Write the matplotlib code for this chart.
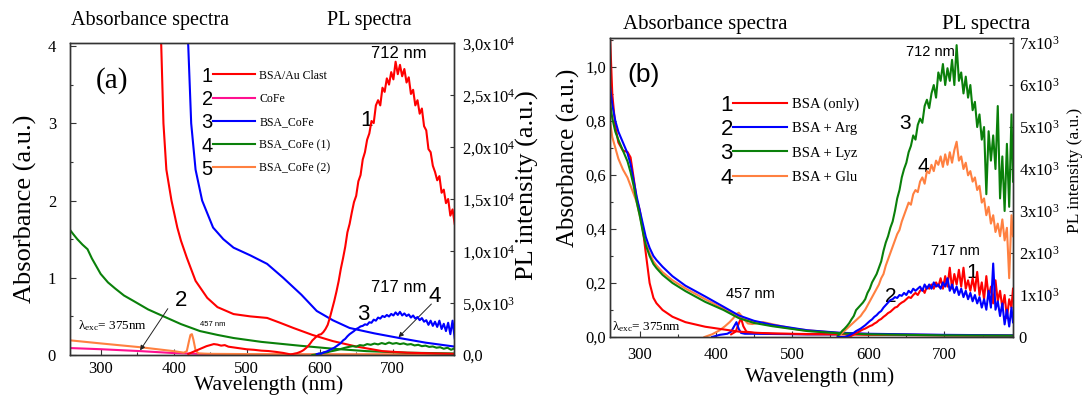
import matplotlib
matplotlib.use('Agg')
import matplotlib.pyplot as plt
from matplotlib.lines import Line2D
from matplotlib.ticker import FixedLocator, FixedFormatter, MultipleLocator

SERIF = 'Liberation Serif'
SANS = 'Liberation Sans'
plt.rcParams['font.family'] = [SERIF, 'DejaVu Serif']
plt.rcParams['mathtext.fontset'] = 'custom'
plt.rcParams['mathtext.rm'] = SERIF
plt.rcParams['mathtext.it'] = SERIF + ':italic'
plt.rcParams['mathtext.bf'] = SERIF + ':bold'
plt.rcParams['mathtext.default'] = 'rm'

RED = '#ff0000'
BLUE = '#0000ff'
GREEN = '#0a800a'
ORANGE = '#ff8040'
PINK = '#ff1090'

# ---------------- panel (a) data ----------------
wl_a_red_abs = [380, 383, 386, 390, 397, 405, 410, 418, 430, 446, 460, 482, 505, 528, 545, 564, 590, 618, 650, 686, 720, 760, 784]
abs_a_red = [4.6, 4.0, 3.0, 2.4, 2.0, 1.65, 1.48, 1.26, 0.96, 0.74, 0.62, 0.53, 0.50, 0.48, 0.42, 0.35, 0.26, 0.18, 0.11, 0.05, 0.03, 0.02, 0.015]

wl_a_blue_abs = [417, 420, 424, 430, 439, 454, 468, 482, 505, 528, 550, 575, 596, 618, 641, 675, 709, 745, 784]
abs_a_blue = [4.4, 4.0, 3.0, 2.4, 2.0, 1.65, 1.5, 1.39, 1.29, 1.18, 1.0, 0.78, 0.57, 0.45, 0.35, 0.28, 0.22, 0.16, 0.11]

wl_a_green_abs = [258, 262, 268, 275, 282, 288, 300, 310, 320, 332, 345, 365, 391, 410, 436, 460, 482, 520, 573, 620, 664, 720, 784]
abs_a_green = [1.62, 1.57, 1.50, 1.43, 1.37, 1.25, 1.05, 0.94, 0.86, 0.77, 0.70, 0.59, 0.48, 0.40, 0.31, 0.26, 0.22, 0.17, 0.12, 0.08, 0.05, 0.03, 0.02]

wl_a_orange_abs = [258, 300, 355, 400, 414, 418, 421, 423, 425, 427, 430, 434, 450, 500, 600, 700, 784]
abs_a_orange = [0.19, 0.15, 0.10, 0.05, 0.03, 0.05, 0.18, 0.26, 0.27, 0.20, 0.06, 0.02, 0.015, 0.012, 0.01, 0.01, 0.01]

wl_a_pink_abs = [258, 300, 355, 400, 450, 500, 784]
abs_a_pink = [0.09, 0.075, 0.05, 0.025, 0.01, 0.004, 0.002]

wl_a_red_pl = [420, 425, 430, 435, 440, 445, 450, 455, 460, 465, 470, 475, 480, 490, 500, 510, 520, 530, 540, 550,
               560, 563, 566, 569, 572, 575, 578, 581, 584, 587, 590, 593, 596, 599, 602, 605, 608, 611, 614, 617,
               620, 623, 626, 629, 632, 635, 638, 641, 644, 647, 650, 653, 656, 659, 662, 665, 668, 671, 674, 677,
               680, 683, 686, 689, 692, 695, 698, 701, 704, 707, 710, 713, 716, 719, 722, 725, 728, 731, 734, 737,
               740, 743, 746, 749, 752, 755, 758, 761, 764, 767, 770, 773, 776, 779, 782, 785]
pl_a_red = [100, 250, 400, 550, 700, 850, 950, 1050, 1000, 900, 950, 800, 750, 650, 550, 500, 420, 380, 300, 200,
            60, 90, 140, 180, 260, 350, 480, 650, 850, 1100, 1400, 1600, 1800, 1950, 2000, 2200, 2500, 2900, 3600, 4400,
            5200, 6100, 7100, 8300, 9300, 10400, 11800, 12600, 13700, 14700, 15300, 16700, 17300, 18800, 19500, 20700, 21300, 22500, 22300, 24000,
            24500, 24000, 25700, 25300, 26600, 26000, 27200, 26500, 28200, 27000, 27900, 26800, 27500, 26200, 26700, 25100, 25500, 24000, 24500, 23200,
            23700, 22000, 21600, 19800, 19500, 18200, 17600, 16800, 17200, 15600, 15900, 14600, 15000, 13400, 14000, 12600]

wl_a_blue_pl = [596, 599, 602, 605, 608, 611, 614, 617, 620, 623, 626, 629, 632, 635, 638, 641, 644, 647, 650, 653,
                656, 659, 662, 665, 668, 671, 674, 677, 680, 683, 686, 689, 692, 695, 698, 701, 704, 707, 710, 713,
                716, 719, 722, 725, 728, 731, 734, 737, 740, 743, 746, 749, 752, 755, 758, 761, 764, 767, 770, 773,
                776, 779, 782, 785]
pl_a_blue = [80, 150, 120, 250, 300, 380, 500, 600, 700, 850, 1000, 1150, 1400, 1550, 1800, 2000, 2150, 2300, 2500, 2600,
             2750, 2800, 2950, 2900, 3150, 3100, 3400, 3300, 3600, 3500, 3750, 3650, 3850, 3700, 3950, 3800, 4100, 3850, 4150, 3800,
             4000, 3750, 3900, 3600, 3800, 3500, 3650, 3350, 3550, 3200, 3350, 2900, 3300, 2800, 3200, 2700, 3300, 2500, 3000, 2300,
             3100, 2000, 3300, 1600]

wl_a_green_pl = [590, 595, 600, 605, 610, 615, 620, 625, 630, 635, 640, 645, 650, 655, 660, 665, 670, 675, 680, 685,
                 690, 695, 700, 705, 710, 715, 720, 725, 730, 735, 740, 745, 750, 755, 760, 765, 770, 775, 780, 785]
pl_a_green = [0, 50, 120, 200, 250, 350, 420, 500, 600, 700, 780, 850, 800, 950, 900, 1050, 980, 1100, 1020, 1150,
              1050, 1200, 1080, 1150, 1050, 1120, 1000, 1050, 920, 980, 850, 900, 780, 820, 700, 750, 600, 700, 500, 650]

legend_a_nums = ['1', '2', '3', '4', '5']
legend_a_labels = ['BSA/Au Clast', 'CoFe', 'BSA_CoFe', 'BSA_CoFe (1)', 'BSA_CoFe (2)']
legend_a_colors = [RED, PINK, BLUE, GREEN, ORANGE]

yticks_a = [0, 1, 2, 3, 4]
yticklabels_a = ['0', '1', '2', '3', '4']
pl_ticks_a = [0, 5000, 10000, 15000, 20000, 25000, 30000]
pl_ticklabels_a = ['0,0', '5,0x10$^3$', '1,0x10$^4$', '1,5x10$^4$', '2,0x10$^4$', '2,5x10$^4$', '3,0x10$^4$']
xticks = [300, 400, 500, 600, 700]
xticklabels = ['300', '400', '500', '600', '700']

# ---------------- panel (b) data ----------------
wl_b_abs = [261, 264, 268, 272, 278, 284, 288, 292, 296, 300, 304, 308, 313, 318, 322, 330, 343, 360, 386, 410,
            430, 450, 474, 520, 561, 600, 700, 790]
abs_b_red = [1.12, 0.90, 0.78, 0.72, 0.69, 0.685, 0.665, 0.59, 0.51, 0.47, 0.40, 0.31, 0.20, 0.145, 0.125, 0.10, 0.075, 0.055, 0.038, 0.028,
             0.02, 0.016, 0.013, 0.011, 0.01, 0.008, 0.006, 0.005]
abs_b_blue = [0.93, 0.86, 0.80, 0.76, 0.72, 0.68, 0.64, 0.58, 0.52, 0.47, 0.42, 0.37, 0.33, 0.30, 0.285, 0.26, 0.225, 0.19, 0.15, 0.112,
              0.08, 0.06, 0.045, 0.025, 0.016, 0.012, 0.008, 0.006]
abs_b_green = [0.87, 0.81, 0.76, 0.73, 0.69, 0.65, 0.61, 0.56, 0.50, 0.45, 0.39, 0.34, 0.30, 0.27, 0.255, 0.23, 0.20, 0.17, 0.13, 0.10,
               0.07, 0.052, 0.04, 0.022, 0.014, 0.01, 0.006, 0.005]
abs_b_orange = [0.80, 0.74, 0.70, 0.66, 0.62, 0.59, 0.56, 0.53, 0.50, 0.45, 0.40, 0.35, 0.31, 0.28, 0.265, 0.24, 0.21, 0.18, 0.14, 0.105,
                0.075, 0.056, 0.042, 0.023, 0.015, 0.011, 0.007, 0.005]

wl_b_orange_short = [385, 395, 405, 412, 418, 423, 427, 430, 433, 437, 442, 448, 455, 462, 470, 478, 486, 495, 505, 520, 540, 560]
val_b_orange_short = [0.0, 0.01, 0.025, 0.04, 0.055, 0.07, 0.085, 0.09, 0.08, 0.065, 0.05, 0.048, 0.052, 0.055, 0.05, 0.045, 0.04, 0.035, 0.03, 0.025, 0.02, 0.015]
wl_b_blue_short = [395, 405, 415, 420, 424, 427, 430, 433, 438, 450, 480, 520, 560]
val_b_blue_short = [0.0, 0.008, 0.012, 0.02, 0.04, 0.055, 0.03, 0.015, 0.012, 0.012, 0.011, 0.01, 0.01]
wl_b_red_short = [420, 426, 430, 433, 436, 440, 450, 480, 520, 560]
val_b_red_short = [0.01, 0.02, 0.05, 0.07, 0.04, 0.02, 0.015, 0.012, 0.01, 0.01]

wl_b_pl = [560, 563, 566, 569, 572, 575, 578, 581, 584, 587, 590, 593, 596, 599, 602, 605, 608, 611, 614, 617,
           620, 623, 626, 629, 632, 635, 638, 641, 644, 647, 650, 653, 656, 659, 662, 665, 668, 671, 674, 677,
           680, 683, 686, 689, 692, 695, 698, 701, 704, 707, 710, 713, 716, 719, 722, 725, 728, 731, 734, 737,
           740, 743, 746, 749, 752, 755, 758, 761, 764, 767, 770, 773, 776, 779, 782, 785, 788, 790]
pl_b_green = [30, 80, 150, 200, 260, 330, 420, 500, 640, 700, 760, 820, 900, 1050, 1150, 1300, 1400, 1500, 1650, 1800,
              2050, 2250, 2400, 2600, 2750, 3000, 3300, 3500, 3800, 4000, 4150, 4400, 4550, 4800, 4700, 5050, 5200, 5100, 5500, 5650,
              5450, 5800, 6000, 5700, 6300, 6100, 6500, 6000, 6400, 6100, 6600, 6000, 6950, 6100, 6300, 5800, 6200, 5700, 6000, 5400,
              5600, 5000, 5300, 4700, 5000, 3400, 4900, 4200, 4800, 4000, 5500, 3300, 4300, 3000, 4600, 3100, 5300, 3700]
pl_b_orange = [20, 50, 100, 150, 200, 250, 300, 350, 400, 450, 500, 580, 650, 750, 850, 950, 1050, 1150, 1250, 1400,
               1500, 1700, 1850, 2000, 2150, 2300, 2450, 2550, 2750, 2900, 3050, 3200, 3150, 3400, 3500, 3450, 3700, 3800, 3650, 3950,
               3900, 4100, 3950, 4200, 4100, 4300, 4050, 4350, 4100, 4400, 4150, 4450, 4650, 4200, 4300, 4000, 4150, 3850, 3950, 3700,
               3800, 3500, 3600, 3200, 3300, 2900, 3100, 2700, 2900, 2500, 2700, 2400, 2800, 2300, 2600, 1400, 2900, 2400]
pl_b_red = [0, 0, 0, 0, 0, 0, 30, 60, 90, 120, 150, 180, 200, 230, 260, 280, 320, 350, 400, 430,
            480, 520, 570, 600, 650, 700, 720, 780, 820, 850, 900, 950, 930, 1000, 1050, 1000, 1100, 1150, 1050, 1200,
            1150, 1250, 1150, 1300, 1200, 1400, 1150, 1450, 1200, 1650, 1150, 1500, 1250, 1600, 1200, 1650, 1150, 1350, 1100, 1400,
            1100, 1550, 1000, 1300, 900, 1450, 950, 1200, 800, 1350, 850, 1100, 700, 1000, 450, 900, 700, 1150]
pl_b_blue = [0, 0, 0, 0, 20, 40, 70, 100, 140, 170, 200, 240, 280, 330, 380, 420, 480, 520, 580, 620,
             700, 760, 820, 880, 900, 950, 930, 1000, 980, 1050, 1000, 1100, 1050, 1150, 1100, 1150, 1200, 1100, 1250, 1150,
             1250, 1150, 1300, 1200, 1250, 1150, 1300, 1200, 1400, 1100, 1250, 1050, 1200, 1000, 1150, 950, 1100, 900, 1050, 850,
             1000, 800, 950, 700, 900, 650, 1100, 700, 1750, 650, 850, 500, 800, 300, 650, 250, 700, 350]

legend_b_nums = ['1', '2', '3', '4']
legend_b_labels = ['BSA (only)', 'BSA + Arg', 'BSA + Lyz', 'BSA + Glu']
legend_b_colors = [RED, BLUE, GREEN, ORANGE]

yticks_b = [0.0, 0.2, 0.4, 0.6, 0.8, 1.0]
yticklabels_b = ['0,0', '0,2', '0,4', '0,6', '0,8', '1,0']
pl_ticks_b = [0, 1000, 2000, 3000, 4000, 5000, 6000, 7000]
pl_ticklabels_b = ['0', '1x10$^3$', '2x10$^3$', '3x10$^3$', '4x10$^3$', '5x10$^3$', '6x10$^3$', '7x10$^3$']

# ---------------- figure ----------------
W, H = 1084, 398
fig = plt.figure(figsize=(W / 100, H / 100), dpi=100)
ax1 = fig.add_axes([70 / W, 43 / H, 384 / W, 312 / H])
ax2 = fig.add_axes([610 / W, 61 / H, 403 / W, 299 / H])
axp1 = ax1.twinx()
axp2 = ax2.twinx()

LW = 1.5
SPINE = '#333333'


def style_axes(ax, axp, pad_l, pad_r, pad_x):
    for a in (ax, axp):
        for s in a.spines.values():
            s.set_color(SPINE)
            s.set_linewidth(1.0)
    ax.tick_params(axis='both', which='major', direction='in', length=4, width=0.8, color=SPINE,
                   labelsize=12, top=False, right=False)
    ax.tick_params(axis='both', which='minor', direction='in', length=2, width=0.8, color=SPINE,
                   top=False, right=False)
    ax.tick_params(axis='y', which='major', pad=pad_l)
    ax.tick_params(axis='x', which='major', pad=pad_x)
    axp.tick_params(axis='y', which='major', direction='in', length=3, width=0.8, color=SPINE,
                    labelsize=12, pad=pad_r)


# ---- panel (a)
ax1.plot(wl_a_pink_abs, abs_a_pink, color=PINK, lw=LW)
ax1.plot(wl_a_orange_abs, abs_a_orange, color=ORANGE, lw=LW)
ax1.plot(wl_a_green_abs, abs_a_green, color=GREEN, lw=LW)
ax1.plot(wl_a_red_abs, abs_a_red, color=RED, lw=LW)
ax1.plot(wl_a_blue_abs, abs_a_blue, color=BLUE, lw=LW)
axp1.plot(wl_a_green_pl, pl_a_green, color=GREEN, lw=LW)
axp1.plot(wl_a_blue_pl, pl_a_blue, color=BLUE, lw=LW)
axp1.plot(wl_a_red_pl, pl_a_red, color=RED, lw=LW)

ax1.set_xlim(258, 784)
ax1.set_ylim(0, 4.04)
axp1.set_ylim(0, 30000)
ax1.xaxis.set_major_locator(FixedLocator(xticks))
ax1.xaxis.set_major_formatter(FixedFormatter(xticklabels))
ax1.xaxis.set_minor_locator(MultipleLocator(50))
ax1.yaxis.set_major_locator(FixedLocator(yticks_a))
ax1.yaxis.set_major_formatter(FixedFormatter(yticklabels_a))
ax1.yaxis.set_minor_locator(MultipleLocator(0.5))
axp1.yaxis.set_major_locator(FixedLocator(pl_ticks_a))
axp1.yaxis.set_major_formatter(FixedFormatter(pl_ticklabels_a))
style_axes(ax1, axp1, 10, 6, 4)

ax1.set_xlabel('Wavelength (nm)', fontsize=15.5, va='center', ha='center')
ax1.xaxis.set_label_coords(0.516, -0.095)
ax1.set_ylabel('Absorbance (a.u.)', fontsize=19, va='center', ha='center')
ax1.yaxis.set_label_coords(-0.117, 0.47)
axp1.set_ylabel('PL intensity (a.u.)', fontsize=19, va='center', ha='center', rotation=90)
axp1.yaxis.set_label_coords(1.19, 0.545)

leg1 = ax1.legend([Line2D([], [], color=c, lw=LW) for c in legend_a_colors], legend_a_labels,
                  loc='upper left', bbox_to_anchor=(0.372, 0.915), frameon=False,
                  prop={'family': SERIF, 'size': 8.5}, handlelength=3.6, handletextpad=0.35,
                  labelspacing=0.95, borderpad=0, borderaxespad=0)

ax1.text(316, 3.56, '(a)', fontsize=21, family=SERIF, ha='center', va='center')
ax1.text(708, 3.9, '712 nm', fontsize=12, family=SANS, ha='center', va='center')
ax1.text(664, 3.04, '1', fontsize=16, family=SANS, ha='center', va='center')
ax1.text(708, 0.87, '717 nm', fontsize=12, family=SANS, ha='center', va='center')
ax1.text(660, 0.53, '3', fontsize=16, family=SANS, ha='center', va='center')
ax1.text(757, 0.76, '4', fontsize=16, family=SANS, ha='center', va='center')
ax1.text(410, 0.70, '2', fontsize=16, family=SANS, ha='center', va='center')
ax1.text(453, 0.39, '457 nm', fontsize=5.5, family=SANS, ha='center', va='center')
ax1.text(269, 0.38, r'λ$_{\rm exc}$= 375nm', fontsize=9.5, family=SERIF, ha='left', va='center')
ax1.annotate('', xy=(354, 0.06), xytext=(392, 0.60),
             arrowprops=dict(arrowstyle='-|>', lw=0.7, color='#222222', mutation_scale=7, shrinkA=0, shrinkB=0))
ax1.annotate('', xy=(708, 0.23), xytext=(753, 0.66),
             arrowprops=dict(arrowstyle='-|>', lw=0.7, color='#222222', mutation_scale=7, shrinkA=0, shrinkB=0))

# ---- panel (b)
ax2.plot(wl_b_orange_short, val_b_orange_short, color=ORANGE, lw=LW)
ax2.plot(wl_b_red_short, val_b_red_short, color=RED, lw=LW)
ax2.plot(wl_b_blue_short, val_b_blue_short, color=BLUE, lw=LW)
ax2.plot(wl_b_abs, abs_b_red, color=RED, lw=LW)
ax2.plot(wl_b_abs, abs_b_orange, color=ORANGE, lw=LW)
ax2.plot(wl_b_abs, abs_b_blue, color=BLUE, lw=LW)
ax2.plot(wl_b_abs, abs_b_green, color=GREEN, lw=LW)
axp2.plot(wl_b_pl, pl_b_orange, color=ORANGE, lw=LW)
axp2.plot(wl_b_pl, pl_b_green, color=GREEN, lw=LW)
axp2.plot(wl_b_pl, pl_b_red, color=RED, lw=LW)
axp2.plot(wl_b_pl, pl_b_blue, color=BLUE, lw=LW)

ax2.set_xlim(261, 790)
ax2.set_ylim(0, 1.107)
axp2.set_ylim(0, 7120)
ax2.xaxis.set_major_locator(FixedLocator(xticks))
ax2.xaxis.set_major_formatter(FixedFormatter(xticklabels))
ax2.xaxis.set_minor_locator(MultipleLocator(50))
ax2.yaxis.set_major_locator(FixedLocator(yticks_b))
ax2.yaxis.set_major_formatter(FixedFormatter(yticklabels_b))
ax2.yaxis.set_minor_locator(MultipleLocator(0.1))
axp2.yaxis.set_major_locator(FixedLocator(pl_ticks_b))
axp2.yaxis.set_major_formatter(FixedFormatter(pl_ticklabels_b))
style_axes(ax2, axp2, 3, 4, 7)

ax2.set_xlabel('Wavelength (nm)', fontsize=15.5, va='center', ha='center')
ax2.xaxis.set_label_coords(0.519, -0.134)
ax2.set_ylabel('Absorbance (a.u.)', fontsize=18, va='center', ha='center')
ax2.yaxis.set_label_coords(-0.104, 0.60)
axp2.set_ylabel('PL intensity (a.u.)', fontsize=12.5, va='center', ha='center', rotation=90)
axp2.yaxis.set_label_coords(1.154, 0.558)

leg2 = ax2.legend([Line2D([], [], color=c, lw=LW) for c in legend_b_colors], legend_b_labels,
                  loc='upper left', bbox_to_anchor=(0.305, 0.80), frameon=False,
                  prop={'family': SERIF, 'size': 10.5}, handlelength=3.7, handletextpad=0.35,
                  labelspacing=0.75, borderpad=0, borderaxespad=0)

ax2.text(305, 0.97, '(b)', fontsize=19, family=SANS, ha='center', va='center')
ax2.text(446, 0.16, '457 nm', fontsize=10.5, family=SANS, ha='center', va='center')
ax2.text(264, 0.037, r'λ$_{\rm exc}$= 375nm', fontsize=9.5, family=SERIF, ha='left', va='center')
ax2.text(682, 1.056, '712 nm', fontsize=10.5, family=SANS, ha='center', va='center')
ax2.text(648, 0.79, '3', fontsize=15, family=SANS, ha='center', va='center')
ax2.text(672, 0.63, '4', fontsize=15, family=SANS, ha='center', va='center')
ax2.text(714, 0.32, '717 nm', fontsize=10.5, family=SANS, ha='center', va='center')
ax2.text(737, 0.24, '1', fontsize=15, family=SANS, ha='center', va='center')
ax2.text(630, 0.15, '2', fontsize=15, family=SANS, ha='center', va='center')

# headers
fig.text(150 / W, 1 - 21 / H, 'Absorbance spectra', fontsize=14.5, family=SERIF, ha='center', va='center')
fig.text(369 / W, 1 - 21 / H, 'PL spectra', fontsize=14.5, family=SERIF, ha='center', va='center')
fig.text(705 / W, 1 - 24 / H, 'Absorbance spectra', fontsize=15, family=SERIF, ha='center', va='center')
fig.text(986 / W, 1 - 24 / H, 'PL spectra', fontsize=15, family=SERIF, ha='center', va='center')

# legend numbers placed just left of each legend line
fig.canvas.draw()
renderer = fig.canvas.get_renderer()
for leg, nums, size in ((leg1, legend_a_nums, 14.5), (leg2, legend_b_nums, 16)):
    for line, num in zip(leg.get_lines(), nums):
        bb = line.get_window_extent(renderer)
        fig.text(bb.x0 / W, (bb.y0 + bb.y1) / 2 / H, num, fontsize=size, family=SANS,
                 ha='right', va='center_baseline')

fig.savefig('out.png', dpi=100)
